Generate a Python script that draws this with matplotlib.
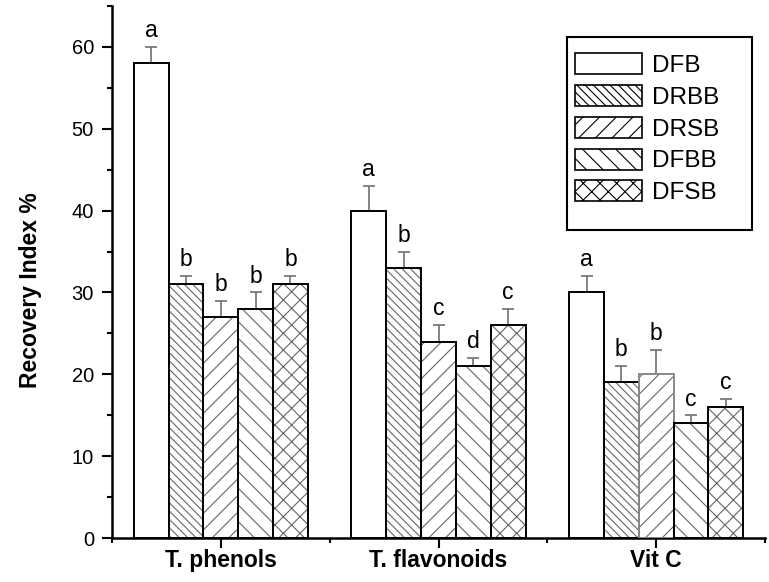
import matplotlib
matplotlib.use("Agg")
import matplotlib.pyplot as plt
import numpy as np
from matplotlib.patches import Rectangle, Patch
from matplotlib.ticker import MultipleLocator, FixedLocator

plt.rcParams['font.family'] = ['Liberation Sans', 'DejaVu Sans']
plt.rcParams['hatch.linewidth'] = 0.8
plt.rcParams['hatch.color'] = '#555555'

categories = ['T. phenols', 'T. flavonoids', 'Vit C']
series = ['DFB', 'DRBB', 'DRSB', 'DFBB', 'DFSB']
values = {
    'DFB':  [58, 40, 30],
    'DRBB': [31, 33, 19],
    'DRSB': [27, 24, 20],
    'DFBB': [28, 21, 14],
    'DFSB': [31, 26, 16],
}
errors = {
    'DFB':  [2, 3, 2],
    'DRBB': [1, 2, 2],
    'DRSB': [2, 2, 3],
    'DFBB': [2, 1, 1],
    'DFSB': [1, 2, 1],
}
letters = {
    'DFB':  ['a', 'a', 'a'],
    'DRBB': ['b', 'b', 'b'],
    'DRSB': ['b', 'c', 'b'],
    'DFBB': ['b', 'd', 'c'],
    'DFSB': ['b', 'c', 'c'],
}
hatches = {'DFB': '', 'DRBB': '\\\\\\\\', 'DRSB': '//', 'DFBB': '\\\\', 'DFSB': 'xx'}

W, H = 769, 582
fig = plt.figure(figsize=(W / 100, H / 100), dpi=100)
ax = fig.add_axes([112 / W, 1 - 538 / H, (765 - 112) / W, (538 - 6) / H])

x = np.arange(1, len(categories) + 1)
bw = 0.16
for i, s in enumerate(series):
    pos = x + (i - 2) * bw
    vals = values[s]
    ax.bar(pos, vals, width=bw, color='white', hatch=hatches[s],
           edgecolor='#666666', linewidth=0, zorder=2)
    edgec = ['black'] * len(vals)
    if s == 'DRSB':
        edgec[2] = '#8a8a8a'
    ax.bar(pos, vals, width=bw, fill=False, edgecolor=edgec, linewidth=1.4, zorder=3)
    ax.errorbar(pos, vals, yerr=[np.zeros(len(vals)), errors[s]], fmt='none',
                ecolor='#707070', elinewidth=1.2, capsize=4.3, capthick=1.2, zorder=1)
    for p, v, e, L in zip(pos, vals, errors[s], letters[s]):
        ax.annotate(L, (p, v + e), xytext=(0, 7), textcoords='offset points',
                    ha='center', va='baseline', fontsize=16.5, color='black')

ax.set_xlim(0.5, 3.5)
ax.set_ylim(0, 65)
ax.set_xticks(x)
ax.xaxis.set_minor_locator(FixedLocator([0.5, 1.5, 2.5, 3.5]))
ax.yaxis.set_major_locator(MultipleLocator(10))
ax.yaxis.set_minor_locator(MultipleLocator(5))
ax.tick_params(axis='both', which='major', direction='out', length=7, width=1.5)
ax.tick_params(axis='both', which='minor', direction='out', length=3.8, width=1.5)
ax.tick_params(axis='y', which='major', pad=6, labelsize=14.5)
ax.tick_params(axis='x', which='major', pad=1)
ax.set_xticklabels(categories, fontsize=16.5, fontweight='bold')
ax.set_ylabel('Recovery Index %', fontsize=16.5, fontweight='bold', va='center')
ax.yaxis.set_label_coords((30 - 112) / 653, 0.466)
for sp in ['top', 'right']:
    ax.spines[sp].set_visible(False)
for sp in ['left', 'bottom']:
    ax.spines[sp].set_linewidth(1.8)

handles = [Patch(facecolor='white', edgecolor='black', hatch=hatches[s], linewidth=1.2)
           for s in series]
leg = fig.legend(handles, series, loc='upper left', bbox_to_anchor=(575 / W, 1 - 53 / H),
                 bbox_transform=fig.transFigure, frameon=False, borderpad=0, borderaxespad=0,
                 fontsize=17.5, handlelength=2.75, handleheight=0.95, handletextpad=0.4,
                 labelspacing=0.33)
fig.patches.append(Rectangle((567 / W, 1 - 230 / H), 185 / W, 193 / H,
                             transform=fig.transFigure, fill=False, edgecolor='black',
                             linewidth=1.5))

fig.savefig('out.png', dpi=100)
